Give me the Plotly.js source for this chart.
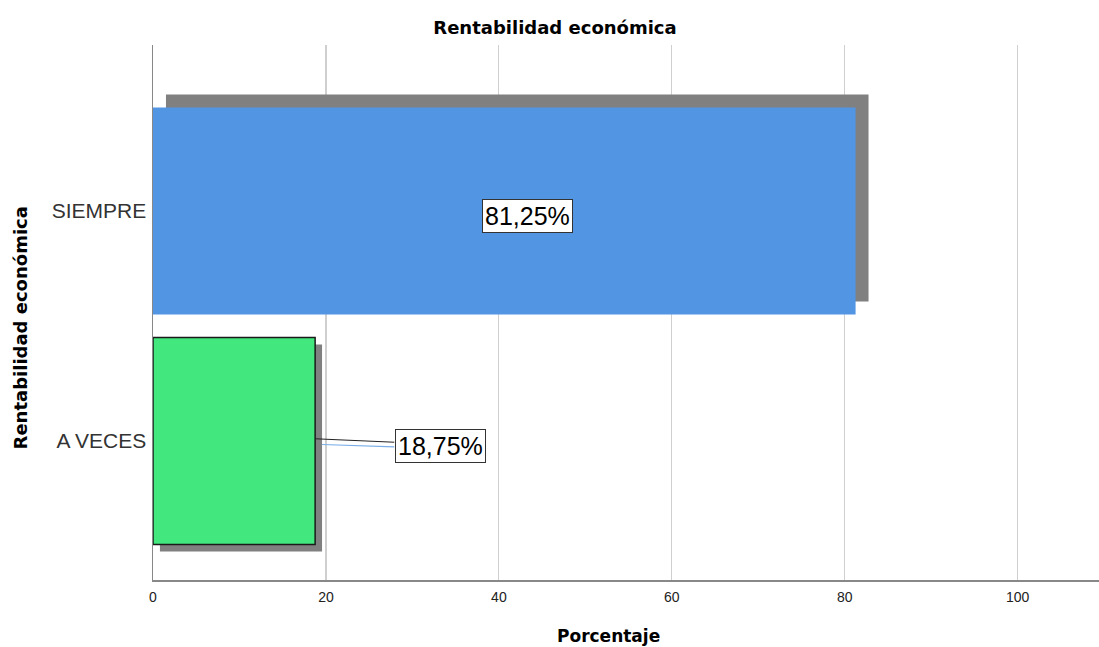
<!DOCTYPE html>
<html><head><meta charset="utf-8">
<script src="https://cdn.plot.ly/plotly-3.0.1.min.js"></script>
<style>html,body{margin:0;padding:0;background:#fff}#chart{width:1099px;height:647px}</style>
</head><body><div id="chart"></div>
<script>
const categories = ["A VECES", "SIEMPRE"];
const values = [18.75, 81.25];
const labels = ["18,75%", "81,25%"];
const labelX = [33.3, 43.3];
const barColors = ["#42E87D", "#5295E3"];
const xTicks = [0, 20, 40, 60, 80, 100];

// shadow styling (offsets in data units)
const shadowShiftX = [0.8, 1.5];
const shadowShiftY = [-0.03, 0.057];
const barWidth = 0.9;

const shadow = {
  type: 'bar', orientation: 'h', y: categories, x: values,
  base: shadowShiftX, width: barWidth,
  offset: shadowShiftY.map(d => -barWidth/2 + d),
  marker: {color: '#808080', line: {width: 0}},
  hoverinfo: 'skip', showlegend: false
};
const bars = {
  type: 'bar', orientation: 'h', y: categories, x: values, width: barWidth,
  marker: {color: barColors, line: {color: ['#1a1a1a', 'rgba(0,0,0,0)'], width: [1.5, 0]}},
  showlegend: false
};

const labelFont = {family:'Liberation Sans, Arial', size:25, color:'#000'};
const annotations = [
  {xref:'x', yref:'y', x: labelX[1], y: categories[1], yshift: -5, text: labels[1], showarrow: false,
   font: labelFont, bgcolor:'#fff', bordercolor:'#333', borderwidth:1, borderpad:2},
  {xref:'x', yref:'y', x: labelX[0], y: categories[0], yshift: -5, text: labels[0], showarrow: false,
   font: labelFont, bgcolor:'#fff', bordercolor:'#333', borderwidth:1, borderpad:2},
  {xref:'paper', yref:'paper', x: 0.481, y: -0.1047, xanchor:'center', yanchor:'middle', text:'<b>Porcentaje</b>', showarrow:false,
   font:{family:'DejaVu Sans', size:17, color:'#000'}},
  {xref:'paper', yref:'paper', x: -0.1406, y: 0.472, xanchor:'center', yanchor:'middle', textangle:-90, text:'<b>Rentabilidad económica</b>', showarrow:false,
   font:{family:'DejaVu Sans', size:18, color:'#000'}}
];
// leader lines from the small bar to its label box
const leader = [
  {type:'line', xref:'x', yref:'y', x0: values[0], x1: labelX[0]-5.4, y0: 0.01, y1: -0.005, line:{color:'#222', width:1}, layer:'above'},
  {type:'line', xref:'x', yref:'y', x0: values[0]+shadowShiftX[0], x1: labelX[0]-5.4, y0: -0.015, y1: -0.025, line:{color:'#7aaee8', width:1.2}, layer:'above'}
];

const layout = {
  width: 1099, height: 647,
  margin: {l:153, r:0, t:45, b:67},
  paper_bgcolor:'#fff', plot_bgcolor:'#fff',
  barmode: 'overlay',
  title: {text:'<b>Rentabilidad económica</b>', x:0.505, xanchor:'center', y: 0.957, yanchor:'middle',
          font:{family:'DejaVu Sans', size:18, color:'#000'}},
  xaxis: {range:[0, 109.4], tickvals: xTicks, ticktext: xTicks.map(String), showgrid:true, gridcolor:'#cfcfcf', gridwidth:1.2,
          zeroline:false, showline:true, linecolor:'#888', linewidth:1.5, ticks:'', ticklen:0, ticklabelstandoff: 4,
          tickfont:{family:'Liberation Sans, Arial', size:14, color:'#222'}, fixedrange:true},
  yaxis: {type:'category', categoryorder:'array', categoryarray: categories, range:[-0.604, 1.722],
          showgrid:false, zeroline:false, showline:true, linecolor:'#888', linewidth:1.5, ticks:'', ticklabelstandoff: 1,
          tickfont:{family:'Liberation Sans, Arial', size:21, color:'#333'}, fixedrange:true},
  annotations: annotations,
  shapes: leader,
  showlegend:false
};
Plotly.newPlot('chart', [shadow, bars], layout, {displayModeBar:false, staticPlot:true});
</script>
</body></html>
